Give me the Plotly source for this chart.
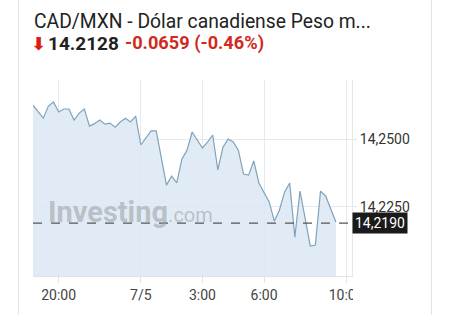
import pandas as pd
import plotly.graph_objects as go

# ---- data ----
times = pd.date_range("2023-07-04 18:45", periods=60, freq="15min")
prices = [14.2625, 14.2600, 14.2577, 14.2622, 14.2637, 14.2600, 14.2611, 14.2611,
          14.2570, 14.2596, 14.2611, 14.2548, 14.2557, 14.2570, 14.2555, 14.2559,
          14.2544, 14.2563, 14.2577, 14.2563, 14.2585, 14.2478, 14.2504, 14.2530,
          14.2530, 14.2437, 14.2330, 14.2363, 14.2338, 14.2426, 14.2459, 14.2526,
          14.2496, 14.2467, 14.2489, 14.2515, 14.2386, 14.2470, 14.2500, 14.2489,
          14.2459, 14.2371, 14.2367, 14.2419, 14.2338, 14.2304, 14.2268, 14.2197,
          14.2238, 14.2304, 14.2338, 14.2138, 14.2308, 14.2208, 14.2105, 14.2109,
          14.2308, 14.2290, 14.2238, 14.2194]
last_price = 14.2190
x_tick_vals = ["2023-07-04 20:00", "2023-07-05 00:00", "2023-07-05 03:00",
               "2023-07-05 06:00", "2023-07-05 10:00"]
x_tick_text = ["20:00", "7/5", "3:00", "6:00", "10:00"]
y_tick_vals = [14.225, 14.25]
title_text = "CAD/MXN - Dólar canadiense Peso m..."
quote_text = "14.2128"
change_text = "-0.0659 (-0.46%)"

FONT = "Roboto"
fig = go.Figure()
fig.add_trace(go.Scatter(
    x=times, y=prices, mode="lines",
    line=dict(color="#7fa3ba", width=1.2),
    fill="tozeroy", fillcolor="rgba(220,232,243,0.85)",
    hoverinfo="skip", showlegend=False))

fig.update_layout(
    width=450, height=315,
    margin=dict(l=33, r=98, t=80, b=39),
    paper_bgcolor="white", plot_bgcolor="white",
    separators=",.",
    font=dict(family=FONT, color="#333"),
    xaxis=dict(
        range=["2023-07-04 18:45", "2023-07-05 10:17"],
        tickvals=x_tick_vals, ticktext=x_tick_text,
        tickfont=dict(size=14, color="#444"),
        showgrid=True, gridcolor="rgba(225,232,238,0.9)", gridwidth=1,
        ticks="outside", ticklen=6, tickcolor="#e2e2e2",
        showline=True, linecolor="#e2e2e2", zeroline=False),
    yaxis=dict(
        side="right", range=[14.19945, 14.2718],
        tickvals=y_tick_vals, tickformat=".4f",
        tickfont=dict(size=14, color="#333"),
        showgrid=True, gridcolor="rgba(225,232,238,0.9)",
        ticks="outside", ticklen=4, tickcolor="#e2e2e2",
        showline=True, linecolor="#e8e8e8", zeroline=False),
)

# last price dashed line + label
fig.add_shape(type="line", xref="paper", x0=0, x1=1, yref="y", y0=last_price, y1=last_price,
              line=dict(color="#555", width=1.2, dash="dash"))
fig.add_annotation(xref="paper", x=1.0, xanchor="left", yref="y", y=last_price,
                   text=f"{last_price:.4f}".replace(".", ","), showarrow=False,
                   bgcolor="#1a1a1a", font=dict(size=14, color="white", family=FONT),
                   borderpad=2)

# clip of the last x tick label, as in the reference container
fig.add_shape(type="rect", xref="paper", yref="paper", layer="above",
              x0=(353 - 33) / 319, x1=(365 - 33) / 319,
              y0=(276 - 305) / 196, y1=(276 - 280) / 196,
              line=dict(width=0), fillcolor="white")

# card borders
for px in (18.5, 431.5):
    xp = (px - 33) / 319
    fig.add_shape(type="line", xref="paper", yref="paper", x0=xp, x1=xp,
                  y0=-0.2, y1=1.41, line=dict(color="#e3e3e3", width=1))

# header text
fig.add_annotation(xref="paper", yref="paper", x=(32 - 33) / 319, y=(276 - 21) / 196,
                   xanchor="left", yanchor="middle", showarrow=False,
                   text=title_text, font=dict(size=19.3, color="#222", family=FONT))
fig.add_annotation(xref="paper", yref="paper", x=(29 - 33) / 319, y=(276 - 43) / 196,
                   xanchor="left", yanchor="middle", showarrow=False,
                   text="<b>⬇</b>", font=dict(size=18, color="#d91e18", family="DejaVu Sans"))
fig.add_annotation(xref="paper", yref="paper", x=(46 - 33) / 319, y=(276 - 43) / 196,
                   xanchor="left", yanchor="middle", showarrow=False,
                   text=f"<b>{quote_text}</b>", font=dict(size=19, color="#222", family=FONT))
fig.add_annotation(xref="paper", yref="paper", x=(123 - 33) / 319, y=(276 - 43) / 196,
                   xanchor="left", yanchor="middle", showarrow=False,
                   text=f"<b>{change_text}</b>", font=dict(size=18.2, color="#d12a1e", family=FONT))

# watermark
fig.add_annotation(xref="paper", yref="paper", x=(46 - 33) / 319, y=(276 - 212) / 196,
                   xanchor="left", yanchor="middle", showarrow=False,
                   text="<b>Investing</b><span style='font-size:20px'>.com</span>",
                   font=dict(size=29, color="rgba(150,155,160,0.55)", family=FONT))

fig.write_html("out.html")
